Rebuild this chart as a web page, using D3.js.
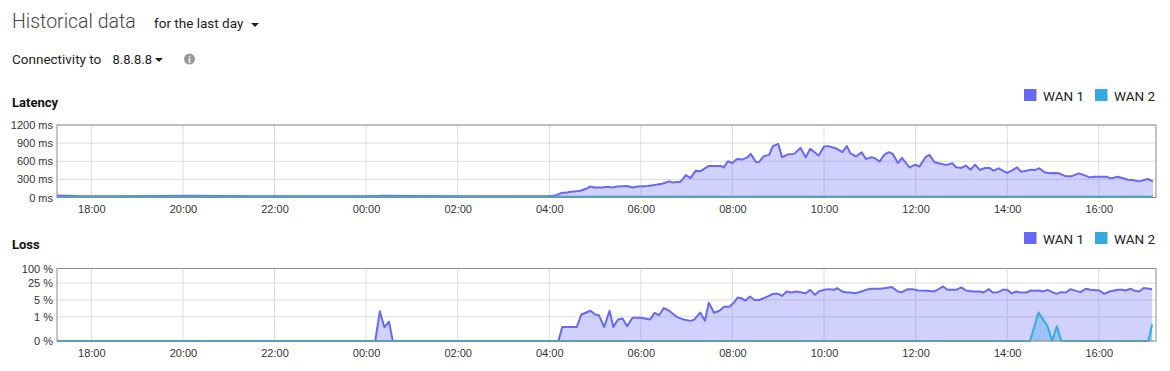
<!DOCTYPE html>
<html>
<head>
<meta charset="utf-8">
<script src="https://cdn.jsdelivr.net/npm/d3@7"></script>
<style>
  html, body { margin: 0; padding: 0; background: #fff; }
  svg { display: block; font-family: "Helvetica Neue", Roboto, "Liberation Sans", Arial, sans-serif; }
</style>
</head>
<body>
<svg id="chart" width="1170" height="371"></svg>
<script>
// ---------------- DATA ----------------
const xTickLabels = ["18:00","20:00","22:00","00:00","02:00","04:00","06:00","08:00","10:00","12:00","14:00","16:00"];
const latencyTicks = [0, 300, 600, 900, 1200];
const latencyTickLabels = ["0 ms","300 ms","600 ms","900 ms","1200 ms"];
const lossTicks = [0, 1, 5, 25, 100];
const lossTickLabels = ["0 %","1 %","5 %","25 %","100 %"];
const seriesNames = ["WAN 1", "WAN 2"];

const latencyWan1Times = ["17:15","17:40","18:30","19:30","20:10","21:00","22:00","23:00","00:00","00:25","01:00","02:00","03:00","04:00",
 "04:09","04:17","04:22","04:28","04:33","04:41","04:48","04:54","04:59","05:10","05:16","05:23","05:29","05:42","05:49","05:56",
 "06:09","06:20","06:28","06:37","06:41","06:52","06:59","07:05","07:12","07:18","07:29","07:38","07:45","07:49","07:54",
 "08:00","08:06","08:13","08:20","08:24","08:31","08:35","08:41","08:48","08:53","09:00","09:05","09:12","09:21","09:29","09:36","09:42","09:53",
 "10:00","10:06","10:17","10:24","10:30","10:35","10:38","10:42","10:49","10:55","11:02","11:06","11:13","11:19","11:25","11:30","11:37","11:42","11:52",
 "12:00","12:05","12:13","12:18","12:25","12:38","12:42","12:48","12:53","13:00","13:06","13:12","13:18","13:24","13:31","13:37","13:42","13:49","13:54",
 "14:00","14:06","14:13","14:18","14:25","14:31","14:37","14:42","14:49","14:55","15:02","15:08","15:17","15:24","15:34","15:39","15:48","15:54",
 "16:10","16:16","16:25","16:31","16:38","16:44","16:53","17:04","17:11"];
const latencyWan1 = [32,24,22,24,27,23,22,21,22,28,24,22,21,22,
 39,78,78,94,100,111,144,183,167,167,178,167,183,189,167,183,
 189,211,228,267,250,261,372,322,444,433,522,522,522,500,600,
 572,639,628,667,722,583,589,683,706,850,889,667,711,722,822,667,806,694,
 844,850,806,750,850,722,711,678,750,639,667,656,594,711,750,722,572,656,500,
 544,511,667,706,583,544,544,567,500,489,528,461,544,456,489,489,444,483,444,
 406,444,500,428,444,461,456,483,417,400,406,400,350,350,400,378,333,344,
 344,317,344,322,294,289,267,306,267];

const latencyWan2Times = ["17:15","20:00","00:00","04:00","08:00","12:00","17:11"];
const latencyWan2 = [14,16,15,13,14,14,14];

const lossWan1Times = ["17:15","00:12","00:18","00:24","00:30","00:35","04:12","04:17","04:36","04:42","04:54","05:00","05:05","05:12","05:19","05:24",
 "05:30","05:36","05:42","05:49","06:00","06:12","06:18","06:24","06:30","06:37","06:47","06:56","07:05","07:10","07:18","07:24","07:29","07:36",
 "07:43","07:49","07:56","08:01","08:07","08:12","08:17","08:23","08:29","08:35","08:41","08:48","08:53","09:00","09:05","09:11","09:17","09:24",
 "09:29","09:36","09:42","09:48","09:53","10:00","10:06","10:13","10:17","10:24","10:30","10:35","10:41","10:49","10:55","11:02","11:13","11:21",
 "11:29","11:37","11:42","11:50","11:56","12:03","12:16","12:24","12:31","12:36","12:42","12:53","13:00","13:06","13:15","13:24","13:29","13:36",
 "13:41","13:48","13:54","14:00","14:06","14:12","14:17","14:25","14:31","14:37","14:42","14:47","14:53","14:59","15:05","15:10","15:17","15:23",
 "15:30","15:36","15:43","15:49","16:01","16:07","16:14","16:25","16:31","16:35","16:42","16:46","16:53","16:59","17:10"];
const lossWan1 = [0,0,1.69,0.37,0.63,0,0,0.38,0.38,1.25,1.79,1.25,1.17,0.38,1.79,0.38,
 0.77,0.85,0.41,0.91,0.91,0.77,1.47,1.17,2.31,1.79,1.0,0.77,0.68,0.77,1.52,0.68,3.87,1.47,
 1.79,2.63,2.63,3.63,6.27,5.9,4.69,6.9,5.0,5.0,5.9,7.36,8.93,8.93,7.36,11.2,10.2,11.2,
 10.5,9.5,13.1,8.1,11.2,13.1,14.0,13.1,15.5,11.2,10.2,10.2,9.5,11.2,13.1,14.5,14.5,15.5,
 17.0,11.2,10.5,14.0,14.0,12.3,11.9,11.2,14.5,18.1,13.1,13.1,16.5,12.3,11.2,11.2,10.2,14.0,
 10.2,10.5,13.1,13.1,9.5,11.2,10.2,10.2,12.3,11.9,12.3,11.2,13.1,10.5,8.93,10.5,10.2,14.0,
 11.9,10.5,14.5,13.1,12.3,8.93,11.2,13.1,13.1,12.3,14.5,12.3,11.2,15.5,14.0];

const lossWan2Times = ["17:15","14:30","14:41","14:53","14:59","15:05","15:11","17:05","17:10"];
const lossWan2 = [0,0,1.52,0.41,0,0.41,0,0,0.49];

// ---------------- RENDER ----------------
const COLORS = ["#6868f8", "#36a9e1"];
const FILLS = ["rgba(104,104,248,0.30)", "rgba(54,169,225,0.35)"];

function toDate(hm) {
  const [h, m] = hm.split(":").map(Number);
  const mins = h * 60 + m;
  const day = mins >= 17 * 60 + 15 ? 1 : 2;
  return new Date(2023, 4, day, h, m);
}

const svg = d3.select("#chart");
const LEFT = 57, RIGHT = 1156;
const x = d3.scaleTime()
  .domain([new Date(2023, 4, 1, 17, 15), new Date(2023, 4, 2, 17, 15)])
  .range([LEFT, RIGHT]);
const xTickDates = xTickLabels.map(toDate);

// header
svg.append("text").attr("x", 12).attr("y", 28).attr("font-size", 19.5).attr("font-weight", 300)
  .attr("fill", "#444").text("Historical data");
svg.append("text").attr("x", 154).attr("y", 28).attr("font-size", 13.5).attr("fill", "#222").text("for the last day");
svg.append("path").attr("d", "M251,23 L259,23 L255,27 Z").attr("fill", "#222");
svg.append("text").attr("x", 12).attr("y", 64).attr("font-size", 13.5).attr("fill", "#222").text("Connectivity to");
svg.append("text").attr("x", 112.5).attr("y", 64).attr("font-size", 13).attr("fill", "#222").text("8.8.8.8");
svg.append("path").attr("d", "M155,58 L163,58 L159,62 Z").attr("fill", "#222");
svg.append("circle").attr("cx", 189.5).attr("cy", 59).attr("r", 5.5).attr("fill", "#999");
svg.append("text").attr("x", 189.5).attr("y", 62.5).attr("font-size", 9).attr("font-weight", "bold")
  .attr("text-anchor", "middle").attr("fill", "#fff").text("i");

function drawPanel(cfg) {
  const g = svg.append("g");
  const y = cfg.y;
  // title
  g.append("text").attr("x", 12).attr("y", cfg.titleY).attr("font-size", 13).attr("font-weight", "bold")
    .attr("fill", "#111").text(cfg.title);
  // legend
  const legX = [1024, 1095];
  seriesNames.forEach((n, i) => {
    g.append("rect").attr("x", legX[i]).attr("y", cfg.legendY).attr("width", 12.5).attr("height", 12)
      .attr("fill", COLORS[i]);
    g.append("text").attr("x", legX[i] + 19).attr("y", cfg.legendY + 11.5).attr("font-size", 13.5)
      .attr("fill", "#222").text(n);
  });
  const top = cfg.top, bottom = cfg.bottom;
  // grid
  g.append("g").selectAll("line").data(cfg.ticks).join("line")
    .attr("x1", LEFT).attr("x2", RIGHT).attr("y1", d => y(d)).attr("y2", d => y(d))
    .attr("stroke", "#dcdcdc").attr("stroke-width", 1);
  g.append("g").selectAll("line").data(xTickDates).join("line")
    .attr("x1", d => x(d)).attr("x2", d => x(d)).attr("y1", top).attr("y2", bottom)
    .attr("stroke", "#dcdcdc").attr("stroke-width", 1);
  // series
  cfg.series.forEach((s, i) => {
    const pts = s.times.map((t, k) => [toDate(t), s.values[k]]);
    const area = d3.area().x(d => x(d[0])).y0(bottom).y1(d => y(d[1]));
    const line = d3.line().x(d => x(d[0])).y(d => y(d[1]));
    g.append("path").attr("d", area(pts)).attr("fill", FILLS[i]);
    g.append("path").attr("d", line(pts)).attr("fill", "none").attr("stroke", COLORS[i])
      .attr("stroke-width", 2).attr("stroke-linejoin", "round");
  });
  // border
  g.append("rect").attr("x", LEFT).attr("y", top).attr("width", RIGHT - LEFT).attr("height", bottom - top)
    .attr("fill", "none").attr("stroke", "#8c8c8c").attr("stroke-width", 1);
  // y axis labels
  const yAxis = d3.axisLeft(y).tickValues(cfg.ticks).tickSize(0).tickPadding(4)
    .tickFormat((d, k) => cfg.tickLabels[k]);
  const ya = g.append("g").attr("transform", `translate(${LEFT},0)`).call(yAxis);
  ya.select(".domain").remove();
  ya.selectAll("text").attr("font-size", 11).attr("fill", "#333").attr("font-family", null);
  // x axis labels
  const xAxis = d3.axisBottom(x).tickValues(xTickDates).tickSize(0).tickPadding(8)
    .tickFormat((d, k) => xTickLabels[k]);
  const xa = g.append("g").attr("transform", `translate(0,${bottom})`).call(xAxis);
  xa.select(".domain").remove();
  xa.selectAll("text").attr("font-size", 11).attr("fill", "#333").attr("font-family", null);
}

const yLat = d3.scaleLinear().domain([0, 1200]).range([197.5, 125]);
drawPanel({
  title: "Latency", titleY: 106.5, legendY: 89, top: 125, bottom: 197.5,
  y: yLat, ticks: latencyTicks, tickLabels: latencyTickLabels,
  series: [
    { times: latencyWan1Times, values: latencyWan1 },
    { times: latencyWan2Times, values: latencyWan2 }
  ]
});

// Loss axis: log scale with 0 % drawn at the 0.1 % floor
const yLossLog = d3.scaleLog().domain([0.1, 100]).range([341, 268.5]);
const yLoss = v => yLossLog(Math.max(v, 0.1));
yLoss.ticks = () => lossTicks;
yLoss.range = () => yLossLog.range();
yLoss.domain = () => yLossLog.domain();
yLoss.copy = () => yLoss;
drawPanel({
  title: "Loss", titleY: 249, legendY: 232, top: 268.5, bottom: 341,
  y: yLoss, ticks: lossTicks, tickLabels: lossTickLabels,
  series: [
    { times: lossWan1Times, values: lossWan1 },
    { times: lossWan2Times, values: lossWan2 }
  ]
});
</script>
</body>
</html>
